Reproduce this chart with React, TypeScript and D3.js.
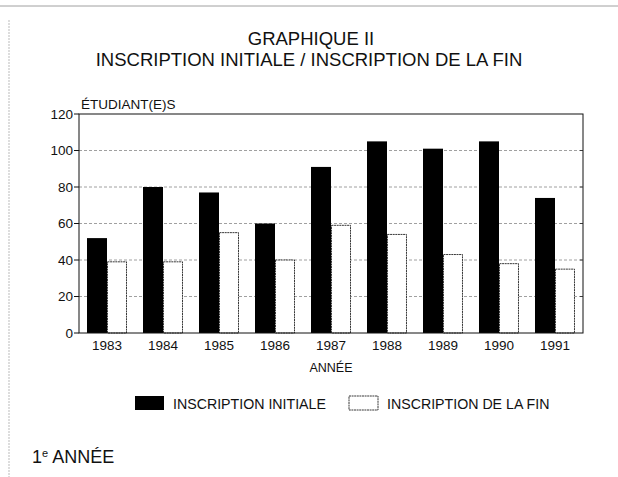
import React, { useEffect } from "react";
import * as d3 from "d3";

// data
const years = ["1983", "1984", "1985", "1986", "1987", "1988", "1989", "1990", "1991"];
const initiale = [52, 80, 77, 60, 91, 105, 101, 105, 74];
const fin = [39, 39, 55, 40, 59, 54, 43, 38, 35];
const yTicks = [0, 20, 40, 60, 80, 100, 120];
const seriesNames = ["INSCRIPTION INITIALE", "INSCRIPTION DE LA FIN"];

const W = 618;
const H = 477;
const margin = { top: 114, right: 35, bottom: 144, left: 79 };
const FONT = "'Liberation Sans', Arial, Helvetica, sans-serif";

const App = () => {
  useEffect(() => {
    document.body.style.margin = "0";
  }, []);

  const x = d3
    .scaleBand()
    .domain(years)
    .range([margin.left, W - margin.right])
    .paddingInner(0.2857)
    .paddingOuter(0.1429);

  const inner = d3
    .scaleBand()
    .domain(["initiale", "fin"])
    .range([0, x.bandwidth()]);

  const y = d3
    .scaleLinear()
    .domain([0, 120])
    .range([H - margin.bottom, margin.top]);

  const left = margin.left;
  const right = W - margin.right;
  const top = y(120);
  const bottom = y(0);
  const cx = (left + right) / 2;

  return (
    <svg width={W} height={H} style={{ display: "block", background: "#fff" }} fontFamily={FONT}>
      {/* page border from the scan */}
      <line x1={0} x2={W} y1={6} y2={6} stroke="#888" strokeWidth={0.8} />
      <line x1={9} x2={9} y1={20} y2={H} stroke="#aaa" strokeWidth={0.8} strokeDasharray="2,1" />

      {/* title */}
      <text x={311} y={45} textAnchor="middle" fontSize={18.5} fill="#111">
        GRAPHIQUE II
      </text>
      <text x={309} y={66} textAnchor="middle" fontSize={18.5} fill="#111">
        INSCRIPTION INITIALE / INSCRIPTION DE LA FIN
      </text>

      {/* gridlines */}
      {yTicks.slice(1, -1).map((t) => (
        <g key={t}>
          <line x1={left} x2={right} y1={y(t)} y2={y(t)} stroke="#888" strokeWidth={0.8} strokeDasharray="3,2" />
          <line x1={right - 3} x2={right} y1={y(t)} y2={y(t)} stroke="#222" strokeWidth={0.8} />
        </g>
      ))}

      {/* bars */}
      {years.map((yr, i) => (
        <g key={yr} transform={`translate(${x(yr)},0)`}>
          <rect
            x={inner("initiale")}
            y={y(initiale[i])}
            width={inner.bandwidth()}
            height={y(0) - y(initiale[i])}
            fill="#000"
          />
          <rect
            x={inner("fin")! + 0.5}
            y={y(fin[i])}
            width={inner.bandwidth() - 1}
            height={y(0) - y(fin[i])}
            fill="#fff"
            stroke="#222"
            strokeWidth={0.9}
            strokeDasharray="2,0.6"
          />
        </g>
      ))}

      {/* frame */}
      <rect x={left} y={top} width={right - left} height={bottom - top} fill="none" stroke="#111" strokeWidth={1} />

      {/* y axis */}
      {yTicks.map((t) => (
        <g key={t}>
          <line x1={left - 5} x2={left} y1={y(t)} y2={y(t)} stroke="#111" strokeWidth={1} />
          <text x={left - 6} y={y(t) + 4.5} textAnchor="end" fontSize={13.5} fill="#111">
            {t}
          </text>
        </g>
      ))}
      <text x={81} y={109} fontSize={13.5} fill="#111">
        ÉTUDIANT(E)S
      </text>

      {/* x axis */}
      {years.map((yr) => (
        <text key={yr} x={x(yr)! + x.bandwidth() / 2} y={bottom + 17} textAnchor="middle" fontSize={13.5} fill="#111">
          {yr}
        </text>
      ))}
      <text x={cx} y={bottom + 39} textAnchor="middle" fontSize={12.5} fill="#111">
        ANNÉE
      </text>

      {/* legend */}
      <rect x={135} y={396} width={29} height={14} fill="#000" />
      <text x={173} y={409} fontSize={14.2} fill="#111">
        {seriesNames[0]}
      </text>
      <rect x={349} y={396} width={29} height={14} fill="#fff" stroke="#222" strokeWidth={0.9} strokeDasharray="2,0.6" />
      <text x={387} y={409} fontSize={14.2} fill="#111">
        {seriesNames[1]}
      </text>

      {/* footer */}
      <text x={32} y={463} fontSize={18} fill="#111">
        1
        <tspan fontSize={11} dy={-6}>e</tspan>
        <tspan dy={6}> ANNÉE</tspan>
      </text>
    </svg>
  );
};

export default App;
